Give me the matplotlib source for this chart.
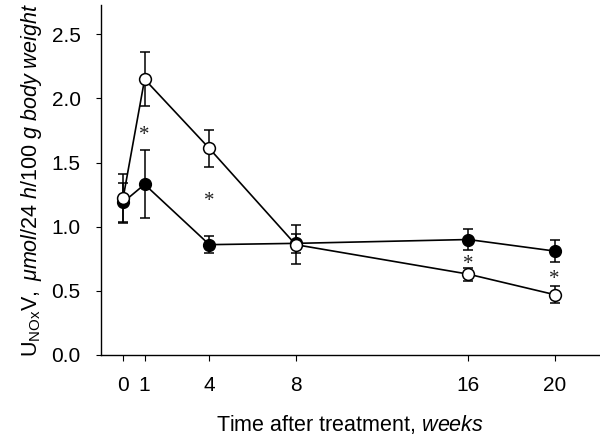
import matplotlib
matplotlib.use("Agg")
import matplotlib.pyplot as plt

# Data
weeks = [0, 1, 4, 8, 16, 20]
filled_mean = [1.19, 1.33, 0.86, 0.87, 0.90, 0.81]
filled_err = [0.15, 0.265, 0.065, 0.075, 0.08, 0.085]
open_mean = [1.22, 2.15, 1.61, 0.86, 0.63, 0.47]
open_err = [0.19, 0.21, 0.145, 0.15, 0.05, 0.065]
star_weeks = [1, 4, 16, 20]
star_y = [1.76, 1.24, 0.755, 0.632]
yticks = [0.0, 0.5, 1.0, 1.5, 2.0, 2.5]

plt.rcParams['font.family'] = ['Liberation Sans', 'DejaVu Sans']
plt.rcParams['mathtext.fontset'] = 'custom'
plt.rcParams['mathtext.rm'] = 'Liberation Sans'
plt.rcParams['mathtext.it'] = 'Liberation Sans:italic'

fig = plt.figure(figsize=(6.0, 4.42), dpi=100)
ax = fig.add_axes([0.168, 0.197, 0.832, 0.792])

ax.errorbar(weeks, filled_mean, yerr=filled_err, fmt='-o', color='black',
            mfc='black', mec='black', ms=8.5, lw=1.2, elinewidth=1.1,
            capsize=3.5, capthick=1.1, zorder=2)
ax.errorbar(weeks, open_mean, yerr=open_err, fmt='-o', color='black',
            mfc='white', mec='black', ms=8.5, mew=1.1, lw=1.2, elinewidth=1.1,
            capsize=3.5, capthick=1.1, zorder=3)

star_fs = 15
for xs, ys in zip(star_weeks, star_y):
    ax.annotate('*', xy=(xs, ys), xytext=(0, -0.5 * star_fs),
                textcoords='offset points', ha='center', va='baseline',
                fontsize=star_fs, family='Liberation Serif', color='#222222')

ax.set_xlim(-1.03, 22.1)
ax.set_ylim(0, 2.73)
ax.set_xticks(weeks)
ax.set_xticklabels([str(w) for w in weeks])
ax.set_yticks(yticks)
ax.set_yticklabels([f'{v:.1f}' for v in yticks])

for s in ['top', 'right']:
    ax.spines[s].set_visible(False)
for s in ['left', 'bottom']:
    ax.spines[s].set_linewidth(1.0)

ax.tick_params(axis='x', direction='out', length=4, width=0.8, pad=11,
               labelsize=15)
ax.tick_params(axis='y', direction='out', length=3.5, width=0.8, pad=11,
               labelsize=15)

ax.set_xlabel(r'Time after treatment, $\mathit{weeks}$', fontsize=15.5,
              labelpad=13)
ax.set_ylabel(r'$\mathrm{U}_{\mathrm{NOx}}\mathrm{V},\ \mathit{\mu mol/24\ h/100\ g\ body\ weight}$',
              fontsize=15.5, labelpad=5)

fig.savefig('out.png', dpi=100)
